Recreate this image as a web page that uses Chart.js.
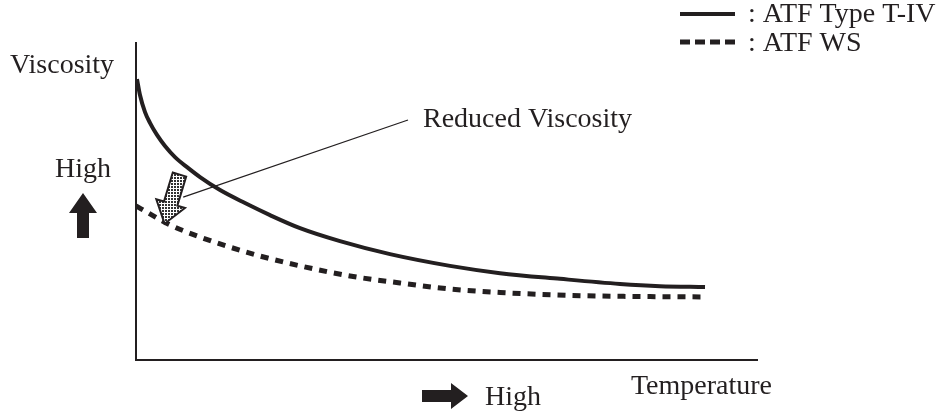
<!DOCTYPE html>
<html lang="en">
<head>
<meta charset="UTF-8">
<title>ATF Viscosity vs Temperature</title>
<script src="https://cdn.jsdelivr.net/npm/chart.js"></script>
<style>
  html, body { margin: 0; padding: 0; background: #fff; }
</style>
</head>
<body>
<canvas id="myChart" width="945" height="412"></canvas>
<script>
// values (arbitrary units: temperature 0-100, viscosity 0-100)
const seriesNames = ['ATF Type T-IV', 'ATF WS'];
const tempT4 = [0.16, 0.64, 1.45, 2.25, 3.38, 4.67, 6.28, 8.37, 10.31, 13.53, 17.55, 21.58, 26.41, 32.85, 40.9, 50.56, 58.62, 68.28, 77.94, 84.38, 91.63];
const viscT4 = [88.6, 83.6, 78.2, 74.8, 71.0, 67.5, 64.0, 60.6, 57.7, 53.6, 49.5, 45.7, 41.6, 37.5, 33.4, 29.7, 27.4, 25.6, 24.0, 23.3, 23.0];
const tempWS = [0, 2.25, 5.48, 10.31, 15.14, 19.97, 26.41, 34.46, 42.51, 50.56, 58.62, 71.5, 82.77, 91.63];
const viscWS = [48.6, 46.1, 42.6, 38.8, 35.6, 32.8, 29.7, 26.5, 24.3, 22.4, 21.3, 20.3, 20.0, 19.9];

const ink = '#231f20';
const font = '28px "Liberation Serif", "Times New Roman", serif';

// stipple fill for the "reduced" arrow
function stipple(ctx) {
    const c = document.createElement('canvas');
    c.width = 3; c.height = 3;
    const g = c.getContext('2d');
    g.fillStyle = '#fff';
    g.fillRect(0, 0, 3, 3);
    g.fillStyle = '#333';
    g.fillRect(0, 0, 2, 2);
    return ctx.createPattern(c, 'repeat');
}

function blockArrow(ctx, tx, ty, hx, hy, shaftHalf, headHalf, headLen) {
    const dx = hx - tx, dy = hy - ty;
    const len = Math.hypot(dx, dy);
    const ux = dx / len, uy = dy / len;   // along
    const nx = -uy, ny = ux;              // normal
    const bx = hx - ux * headLen, by = hy - uy * headLen;
    ctx.beginPath();
    ctx.moveTo(tx + nx * shaftHalf, ty + ny * shaftHalf);
    ctx.lineTo(bx + nx * shaftHalf, by + ny * shaftHalf);
    ctx.lineTo(bx + nx * headHalf, by + ny * headHalf);
    ctx.lineTo(hx, hy);
    ctx.lineTo(bx - nx * headHalf, by - ny * headHalf);
    ctx.lineTo(bx - nx * shaftHalf, by - ny * shaftHalf);
    ctx.lineTo(tx - nx * shaftHalf, ty - ny * shaftHalf);
    ctx.closePath();
}

const decor = {
    id: 'decor',
    afterDraw(chart) {
        const ctx = chart.ctx;
        const xs = chart.scales.x, ys = chart.scales.y;
        const px = v => xs.getPixelForValue(v);
        const py = v => ys.getPixelForValue(v);
        ctx.save();
        ctx.fillStyle = ink;
        ctx.strokeStyle = ink;
        ctx.font = font;
        ctx.textBaseline = 'alphabetic';

        // axis labels
        ctx.fillText('Viscosity', 10, 73);
        ctx.fillText('High', 55, 177);
        ctx.textAlign = 'right';
        ctx.fillText('Temperature', 772, 394);
        ctx.textAlign = 'left';
        ctx.fillText('High', 485, 405);

        // solid black direction arrows
        blockArrow(ctx, 83, 238, 83, 193, 6, 14, 20);
        ctx.fill();
        blockArrow(ctx, 422, 396, 468, 396, 6, 13, 17);
        ctx.fill();

        // callout
        ctx.fillText('Reduced Viscosity', 423, 127);
        ctx.lineWidth = 1.2;
        ctx.beginPath();
        ctx.moveTo(px(43.8), py(75.7));
        ctx.lineTo(px(7.6), py(51.4));
        ctx.stroke();

        blockArrow(ctx, px(7.0), py(58.5), px(4.6), py(43.0), 7, 15, 21);
        ctx.fillStyle = stipple(ctx);
        ctx.fill();
        ctx.lineWidth = 2;
        ctx.lineJoin = 'miter';
        ctx.stroke();

        // legend
        ctx.fillStyle = ink;
        ctx.lineWidth = 4;
        ctx.lineCap = 'butt';
        ctx.beginPath();
        ctx.moveTo(680, 14);
        ctx.lineTo(735, 14);
        ctx.stroke();
        ctx.setLineDash([10, 5]);
        ctx.lineWidth = 5;
        ctx.beginPath();
        ctx.moveTo(680, 42);
        ctx.lineTo(735, 42);
        ctx.stroke();
        ctx.setLineDash([]);
        ctx.fillText(': ' + seriesNames[0], 748, 22);
        ctx.fillText(': ' + seriesNames[1], 748, 51);
        ctx.restore();
    }
};

const toPoints = (xs, ys) => xs.map((x, i) => ({ x: x, y: ys[i] }));

const axis = (min, max) => ({
    type: 'linear',
    min: min,
    max: max,
    grid: { display: false, drawTicks: false },
    ticks: { display: false },
    border: { display: true, color: ink, width: 2 }
});

new Chart(document.getElementById('myChart'), {
    type: 'line',
    data: {
        datasets: [
            {
                label: seriesNames[0],
                data: toPoints(tempT4, viscT4),
                borderColor: ink,
                borderWidth: 4,
                pointRadius: 0,
                cubicInterpolationMode: 'monotone',
                fill: false
            },
            {
                label: seriesNames[1],
                data: toPoints(tempWS, viscWS),
                borderColor: ink,
                borderWidth: 5,
                borderDash: [8, 7],
                pointRadius: 0,
                cubicInterpolationMode: 'monotone',
                fill: false
            }
        ]
    },
    options: {
        responsive: false,
        animation: false,
        devicePixelRatio: 1,
        events: [],
        layout: { padding: { left: 136, right: 188, top: 43, bottom: 52 } },
        scales: { x: axis(0, 100), y: axis(0, 100) },
        plugins: { legend: { display: false }, tooltip: { enabled: false } }
    },
    plugins: [decor]
});
</script>
</body>
</html>
